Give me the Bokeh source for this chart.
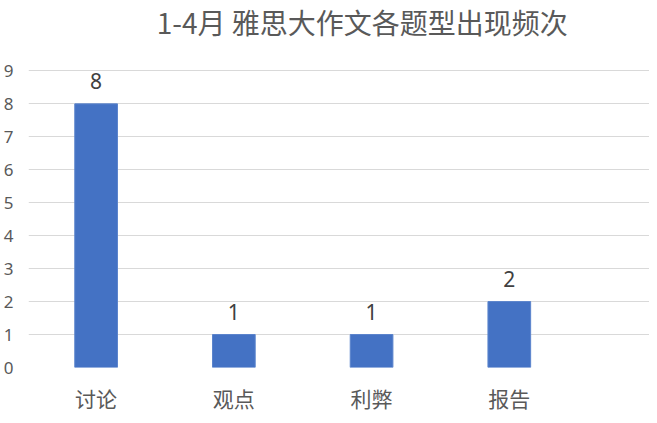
from bokeh.plotting import figure
from bokeh.models import FixedTicker, ColumnDataSource, LabelSet, Label, Range1d
from bokeh.core.properties import value
from bokeh.embed import file_html
from bokeh.resources import INLINE

title_text = "1-4月 雅思大作文各题型出现频次"
categories = ["讨论", "观点", "利弊", "报告"]
counts = [8, 1, 1, 2]
y_ticks = [0, 1, 2, 3, 4, 5, 6, 7, 8, 9]

xs = list(range(len(categories)))
src = ColumnDataSource(dict(x=xs, y=counts, lbl=[str(c) for c in counts]))

# frame reaches the top of the figure; headroom above 9 holds the title
p = figure(width=649, height=415, output_backend="svg", toolbar_location=None,
           x_range=Range1d(-0.491, 4.018), y_range=Range1d(0, 11.137),
           min_border_left=0, min_border_right=0, min_border_top=0, min_border_bottom=45)
p.outline_line_color = None
p.background_fill_color = "white"
p.border_fill_color = "white"

title = Label(x=1.932, y=10.475, text=title_text,
              text_align="center", text_baseline="middle", text_font="Noto Sans CJK SC",
              text_font_size="28px", text_color="#595959")
p.add_layout(title)

p.vbar(x="x", top="y", width=0.31, source=src, fill_color="#4472C4", line_color="#5B84CC", line_width=1)

labels = LabelSet(x="x", y="y", text="lbl", source=src, text_align="center", text_baseline="bottom",
                  y_offset=15, text_font=value("Noto Sans"), text_font_size="21px", text_color="#404040")
p.add_layout(labels)

p.yaxis.ticker = FixedTicker(ticks=y_ticks)
p.yaxis.axis_line_color = None
p.yaxis.major_tick_line_color = None
p.yaxis.minor_tick_line_color = None
p.yaxis.major_label_text_font = "Noto Sans"
p.yaxis.major_label_text_font_size = "17px"
p.yaxis.major_label_text_color = "#595959"
p.yaxis.major_label_standoff = 9

p.xaxis.ticker = FixedTicker(ticks=xs)
p.xaxis.major_label_overrides = {i: c for i, c in zip(xs, categories)}
p.xaxis.axis_line_color = None
p.xaxis.major_tick_line_color = None
p.xaxis.minor_tick_line_color = None
p.xaxis.major_label_text_font = "Noto Sans CJK SC"
p.xaxis.major_label_text_font_size = "21px"
p.xaxis.major_label_text_color = "#595959"
p.xaxis.major_label_standoff = 9

p.xgrid.grid_line_color = None
p.ygrid.grid_line_color = "#D9D9D9"
p.ygrid.grid_line_width = 1

open("out.html", "w").write(file_html(p, INLINE))
